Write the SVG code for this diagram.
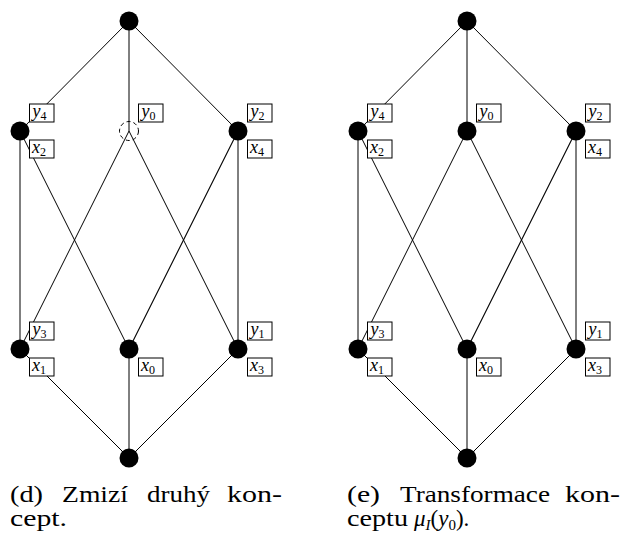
<svg xmlns="http://www.w3.org/2000/svg" width="622" height="539" viewBox="0 0 622 539" font-family="'Liberation Serif', 'Times New Roman', serif">
  <style>
    .edge { stroke: #000; stroke-width: 1; fill: none; }
    .node { fill: #000; }
    .gone { fill: none; stroke: #000; stroke-width: 1; stroke-dasharray: 4 3; }
    .lbl text { font-family: 'Liberation Serif', 'Times New Roman', serif; fill: #000; }
    .v { font-style: italic; font-size: 18px; }
    .s { font-size: 12px; }
    .cap { font-family: 'Liberation Serif', 'Times New Roman', serif; font-size: 23px; fill: #000; }
    .m { font-style: italic; }
  </style>
  <defs>
    <!-- label box anchored at node centre: above-right / below-right -->
    <rect id="boxUp" x="9.5" y="-27" width="24.5" height="18" fill="#fff" stroke="#000" stroke-width="1"/>
    <rect id="boxDn" x="9.5" y="9" width="24.5" height="18" fill="#fff" stroke="#000" stroke-width="1"/>
  </defs>

  <!-- ===== lattice (d) ===== -->
  <g id="lattice-d">
    <g id="edges-d">
      <line class="edge" x1="129" y1="21" x2="20" y2="131"/>
      <line class="edge" x1="129" y1="21" x2="129" y2="131"/>
      <line class="edge" x1="129" y1="21" x2="238" y2="131"/>
      <line class="edge" x1="20" y1="131" x2="20" y2="349"/>
      <line class="edge" x1="20" y1="131" x2="129" y2="349"/>
      <line class="edge" x1="129" y1="131" x2="20" y2="349"/>
      <line class="edge" x1="129" y1="131" x2="238" y2="349"/>
      <line class="edge" x1="238" y1="131" x2="129" y2="349" style="stroke-width:1.15"/>
      <line class="edge" x1="238" y1="131" x2="238" y2="349"/>
      <line class="edge" x1="20" y1="349" x2="129" y2="458"/>
      <line class="edge" x1="129" y1="349" x2="129" y2="458"/>
      <line class="edge" x1="238" y1="349" x2="129" y2="458"/>
    </g>

    <g id="d-top"><circle class="node" cx="129" cy="21" r="9.5"/></g>

    <g id="d-left" transform="translate(20,131)">
      <circle class="node" r="9.5"/>
      <g class="lbl"><use href="#boxUp"/><text x="12.5" y="-14"><tspan class="v">y</tspan><tspan class="s" dy="3">4</tspan></text></g>
      <g class="lbl"><use href="#boxDn"/><text x="12" y="22"><tspan class="v">x</tspan><tspan class="s" dy="3">2</tspan></text></g>
    </g>

    <g id="d-mid" transform="translate(129,131)">
      <circle class="gone" r="9.5"/>
      <g class="lbl"><use href="#boxUp"/><text x="12.5" y="-14"><tspan class="v">y</tspan><tspan class="s" dy="3">0</tspan></text></g>
    </g>

    <g id="d-right" transform="translate(238,131)">
      <circle class="node" r="9.5"/>
      <g class="lbl"><use href="#boxUp"/><text x="12.5" y="-14"><tspan class="v">y</tspan><tspan class="s" dy="3">2</tspan></text></g>
      <g class="lbl"><use href="#boxDn"/><text x="12" y="22"><tspan class="v">x</tspan><tspan class="s" dy="3">4</tspan></text></g>
    </g>

    <g id="d-bl" transform="translate(20,349)">
      <circle class="node" r="9.5"/>
      <g class="lbl"><use href="#boxUp"/><text x="12.5" y="-14"><tspan class="v">y</tspan><tspan class="s" dy="3">3</tspan></text></g>
      <g class="lbl"><use href="#boxDn"/><text x="12" y="22"><tspan class="v">x</tspan><tspan class="s" dy="3">1</tspan></text></g>
    </g>

    <g id="d-bm" transform="translate(129,349)">
      <circle class="node" r="9.5"/>
      <g class="lbl"><use href="#boxDn"/><text x="12" y="22"><tspan class="v">x</tspan><tspan class="s" dy="3">0</tspan></text></g>
    </g>

    <g id="d-br" transform="translate(238,349)">
      <circle class="node" r="9.5"/>
      <g class="lbl"><use href="#boxUp"/><text x="12.5" y="-14"><tspan class="v">y</tspan><tspan class="s" dy="3">1</tspan></text></g>
      <g class="lbl"><use href="#boxDn"/><text x="12" y="22"><tspan class="v">x</tspan><tspan class="s" dy="3">3</tspan></text></g>
    </g>

    <g id="d-bottom"><circle class="node" cx="129" cy="458" r="9.5"/></g>
  </g>

  <!-- ===== lattice (e) ===== -->
  <g id="lattice-e" transform="translate(338,0)">
    <g id="edges-e">
      <line class="edge" x1="129" y1="21" x2="20" y2="131"/>
      <line class="edge" x1="129" y1="21" x2="129" y2="131"/>
      <line class="edge" x1="129" y1="21" x2="238" y2="131"/>
      <line class="edge" x1="20" y1="131" x2="20" y2="349"/>
      <line class="edge" x1="20" y1="131" x2="129" y2="349"/>
      <line class="edge" x1="129" y1="131" x2="20" y2="349"/>
      <line class="edge" x1="129" y1="131" x2="238" y2="349"/>
      <line class="edge" x1="238" y1="131" x2="129" y2="349" style="stroke-width:1.15"/>
      <line class="edge" x1="238" y1="131" x2="238" y2="349"/>
      <line class="edge" x1="20" y1="349" x2="129" y2="458"/>
      <line class="edge" x1="129" y1="349" x2="129" y2="458"/>
      <line class="edge" x1="238" y1="349" x2="129" y2="458"/>
    </g>

    <g id="e-top"><circle class="node" cx="129" cy="21" r="9.5"/></g>

    <g id="e-left" transform="translate(20,131)">
      <circle class="node" r="9.5"/>
      <g class="lbl"><use href="#boxUp"/><text x="12.5" y="-14"><tspan class="v">y</tspan><tspan class="s" dy="3">4</tspan></text></g>
      <g class="lbl"><use href="#boxDn"/><text x="12" y="22"><tspan class="v">x</tspan><tspan class="s" dy="3">2</tspan></text></g>
    </g>

    <g id="e-mid" transform="translate(129,131)">
      <circle class="node" r="9.5"/>
      <g class="lbl"><use href="#boxUp"/><text x="12.5" y="-14"><tspan class="v">y</tspan><tspan class="s" dy="3">0</tspan></text></g>
    </g>

    <g id="e-right" transform="translate(238,131)">
      <circle class="node" r="9.5"/>
      <g class="lbl"><use href="#boxUp"/><text x="12.5" y="-14"><tspan class="v">y</tspan><tspan class="s" dy="3">2</tspan></text></g>
      <g class="lbl"><use href="#boxDn"/><text x="12" y="22"><tspan class="v">x</tspan><tspan class="s" dy="3">4</tspan></text></g>
    </g>

    <g id="e-bl" transform="translate(20,349)">
      <circle class="node" r="9.5"/>
      <g class="lbl"><use href="#boxUp"/><text x="12.5" y="-14"><tspan class="v">y</tspan><tspan class="s" dy="3">3</tspan></text></g>
      <g class="lbl"><use href="#boxDn"/><text x="12" y="22"><tspan class="v">x</tspan><tspan class="s" dy="3">1</tspan></text></g>
    </g>

    <g id="e-bm" transform="translate(129,349)">
      <circle class="node" r="9.5"/>
      <g class="lbl"><use href="#boxDn"/><text x="12" y="22"><tspan class="v">x</tspan><tspan class="s" dy="3">0</tspan></text></g>
    </g>

    <g id="e-br" transform="translate(238,349)">
      <circle class="node" r="9.5"/>
      <g class="lbl"><use href="#boxUp"/><text x="12.5" y="-14"><tspan class="v">y</tspan><tspan class="s" dy="3">1</tspan></text></g>
      <g class="lbl"><use href="#boxDn"/><text x="12" y="22"><tspan class="v">x</tspan><tspan class="s" dy="3">3</tspan></text></g>
    </g>

    <g id="e-bottom"><circle class="node" cx="129" cy="458" r="9.5"/></g>
  </g>

  <!-- ===== captions (justified word by word) ===== -->
  <g id="caption-d">
    <text class="cap" x="10" y="502" textLength="33" lengthAdjust="spacingAndGlyphs">(d)</text>
    <text class="cap" x="62" y="502" textLength="66" lengthAdjust="spacingAndGlyphs">Zmizí</text>
    <text class="cap" x="147" y="502" textLength="63" lengthAdjust="spacingAndGlyphs">druhý</text>
    <text class="cap" x="227" y="502" textLength="55" lengthAdjust="spacingAndGlyphs">kon-</text>
    <text class="cap" x="10" y="526" textLength="57" lengthAdjust="spacingAndGlyphs">cept.</text>
  </g>
  <g id="caption-e">
    <text class="cap" x="347" y="502" textLength="33" lengthAdjust="spacingAndGlyphs">(e)</text>
    <text class="cap" x="400" y="502" textLength="150" lengthAdjust="spacingAndGlyphs">Transformace</text>
    <text class="cap" x="565" y="502" textLength="55" lengthAdjust="spacingAndGlyphs">kon-</text>
    <text class="cap" x="347" y="526" textLength="61" lengthAdjust="spacingAndGlyphs">ceptu</text>
    <text class="cap" x="414" y="526"><tspan class="m">μ</tspan><tspan class="m" font-size="15" dy="4">I</tspan><tspan dy="-4">(</tspan><tspan class="m">y</tspan><tspan font-size="15" dy="4">0</tspan><tspan dy="-4">).</tspan></text>
  </g>
</svg>
